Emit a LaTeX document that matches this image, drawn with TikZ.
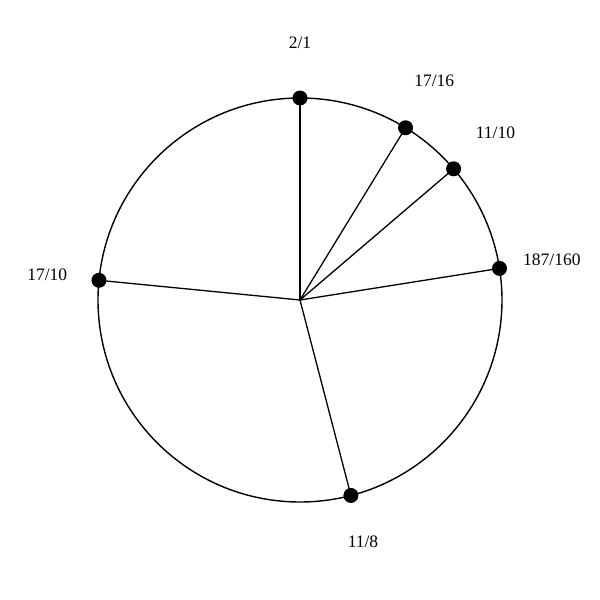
\documentclass[tikz,border=0pt]{standalone}
\usepackage{fontspec}
\setmainfont{Liberation Serif}
\begin{document}
\begin{tikzpicture}[x=1pt,y=1pt,
  rim/.style={line width=1.4pt},
  spoke/.style={line width=1.3pt},
  dotpt/.style={circle,fill=black,inner sep=0pt,minimum size=15pt},
  lab/.style={font=\fontsize{17.5}{20}\selectfont,inner sep=0pt}]
\useasboundingbox (-300,-300) rectangle (300,300);
\coordinate (c) at (0,0);
\draw[rim] (c) circle (202);
\foreach \name/\ang/\txt/\r in {a/90/2\slash 1/257, b/58.5/17\slash 16/257, c1/40.5/11\slash 10/257, d/9/187\slash 160/255, e/-75.4/11\slash 8/250, f/174.4/17\slash 10/254}{
  \node[dotpt] (\name) at (\ang:202) {};
  \draw[spoke] (c) -- (\name.center);
  \node[lab] (\name l) at (\ang:\r) {\txt};
}
\end{tikzpicture}
\end{document}
